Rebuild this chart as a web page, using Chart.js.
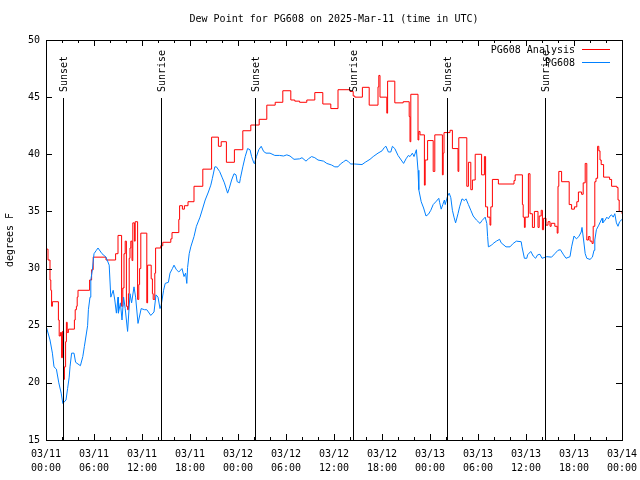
<!DOCTYPE html>
<html><head><meta charset="utf-8">
<script src="https://cdn.jsdelivr.net/npm/chart.js@4.4.1/dist/chart.umd.min.js"></script>
<style>html,body{margin:0;padding:0;background:#fff;}canvas{display:block;}</style>
</head><body>
<canvas id="c" width="640" height="480"></canvas>
<script>
const chartTitle = 'Dew Point for PG608 on 2025-Mar-11 (time in UTC)';
const yAxisTitle = 'degrees F';
const dayLabels = ['03/11', '03/12', '03/13', '03/14'];
const analysisLabel = 'PG608 Analysis';
const obsLabel = 'PG608';

// hours since 03/11 00:00 UTC, value holds from that hour on (stepped)
const analysisHours = [0, 0.25, 0.5, 0.6, 0.7, 0.8, 1.55, 1.65, 1.8, 1.95, 2.05, 2.2, 2.3, 2.45, 2.55, 2.65, 2.8, 3.55, 3.65, 3.8, 3.9, 4.0, 5.45, 5.7, 5.9, 7.5, 8.7, 9.0, 9.45, 9.6, 9.75, 9.9, 10.05, 10.2, 10.3, 10.4, 10.5, 10.6, 10.75, 10.85, 11.05, 11.15, 11.45, 11.6, 11.7, 11.85, 12.6, 12.7, 13.15, 13.3, 13.4, 13.6, 13.7, 14.35, 14.6, 15.6, 15.75, 16.6, 16.7, 17.05, 17.3, 17.75, 18.5, 19.6, 20.7, 21.55, 21.9, 22.55, 23.55, 24.6, 25.6, 26.65, 27.6, 28.65, 29.6, 30.6, 31.1, 31.7, 32.6, 33.6, 34.6, 35.6, 36.5, 38.0, 38.4, 38.6, 39.55, 40.4, 41.5, 41.6, 41.75, 42.6, 42.7, 43.6, 44.65, 45.4, 45.5, 45.6, 46.5, 46.6, 46.75, 47.3, 47.4, 47.7, 48.4, 48.6, 49.55, 49.65, 49.75, 50.5, 50.8, 51.5, 51.6, 52.6, 52.8, 53.1, 53.3, 53.65, 54.45, 54.8, 54.95, 55.2, 55.5, 55.6, 55.8, 56.55, 58.5, 58.65, 59.55, 59.65, 59.8, 59.9, 60.3, 60.5, 60.8, 61.05, 61.5, 61.65, 61.9, 62.05, 62.2, 62.5, 62.75, 63.0, 63.15, 63.6, 63.9, 64.0, 64.1, 64.45, 65.4, 65.7, 66.05, 66.35, 66.55, 66.95, 67.15, 67.4, 67.6, 67.8, 68.0, 68.25, 68.4, 68.6, 68.75, 68.95, 69.1, 69.25, 69.4, 69.7, 70.45, 70.7, 71.35, 71.5, 71.65, 72];
const analysisValues = [31.7, 30.75, 29.0, 28.1, 26.7, 27.1, 25.5, 24.1, 24.4, 22.2, 24.5, 20.3, 21.4, 23.6, 25.3, 24.4, 24.7, 25.5, 26.4, 26.7, 27.5, 28.1, 29.0, 29.9, 31.0, 30.75, 31.3, 32.9, 26.7, 28.3, 31.3, 32.4, 26.7, 26.4, 27.8, 30.9, 31.8, 32.4, 30.7, 34.0, 32.4, 34.1, 27.3, 28.6, 30.0, 33.1, 27.0, 30.3, 29.1, 27.8, 27.3, 29.6, 31.8, 32.0, 32.3, 32.6, 33.15, 34.3, 35.5, 35.2, 35.5, 35.85, 37.2, 38.7, 41.5, 40.7, 41.1, 39.3, 40.4, 42.06, 42.56, 43.06, 44.3, 44.55, 45.56, 44.75, 44.65, 44.55, 44.75, 45.4, 44.4, 44.0, 45.65, 45.5, 45.1, 45.0, 45.86, 44.3, 45.9, 46.9, 45.0, 43.6, 46.4, 44.5, 44.6, 43.3, 41.1, 45.25, 41.25, 42.0, 41.7, 37.3, 39.5, 41.2, 38.5, 41.7, 38.2, 40.1, 41.9, 42.1, 40.5, 38.5, 41.45, 37.2, 39.3, 36.9, 37.75, 40.0, 38.2, 39.8, 35.4, 34.5, 33.8, 35.4, 37.8, 37.4, 37.7, 38.2, 35.6, 34.5, 33.6, 34.5, 38.3, 34.8, 33.6, 35.0, 33.6, 34.6, 35.1, 33.4, 34.4, 33.8, 34.1, 33.7, 33.96, 33.7, 33.1, 37.2, 38.5, 37.6, 35.6, 35.2, 35.4, 35.85, 36.7, 36.5, 37.5, 39.2, 32.5, 32.8, 32.4, 32.2, 33.7, 37.6, 37.9, 40.7, 40.3, 39.5, 39.1, 38.0, 37.8, 37.2, 37.1, 36.0, 35.0, 34.8];

const obsHours = [0.0, 0.5, 0.8, 1.0, 1.3, 1.6, 1.9, 2.1, 2.5, 2.7, 2.9, 3.0, 3.2, 3.5, 3.7, 4.3, 4.6, 4.8, 5.0, 5.2, 5.3, 5.5, 5.6, 5.8, 6.0, 6.3, 6.5, 7.0, 7.5, 7.9, 8.1, 8.4, 8.6, 8.8, 9.0, 9.05, 9.3, 9.5, 9.7, 9.9, 10.2, 10.5, 10.7, 11.0, 11.2, 11.5, 11.9, 12.3, 12.6, 13.1, 13.5, 13.75, 14.0, 14.25, 14.4, 14.7, 14.9, 15.3, 15.5, 15.8, 16.0, 16.3, 16.6, 17.0, 17.25, 17.45, 17.6, 17.7, 17.9, 18.1, 18.5, 18.8, 19.25, 19.6, 19.9, 20.3, 20.6, 20.8, 21.1, 21.3, 21.7, 22.0, 22.3, 22.7, 22.9, 23.2, 23.5, 23.75, 23.9, 24.2, 24.3, 24.6, 24.9, 25.2, 25.5, 25.7, 26.0, 26.1, 26.3, 26.6, 26.9, 27.2, 27.5, 28.0, 28.6, 29.2, 29.7, 30.1, 30.5, 31.0, 31.7, 32.0, 32.5, 32.8, 33.2, 33.6, 34.0, 34.7, 35.1, 35.7, 36.1, 36.5, 36.8, 37.2, 37.5, 37.8, 38.1, 38.6, 39.5, 39.9, 40.5, 40.9, 41.5, 42.0, 42.3, 42.5, 42.8, 43.1, 43.3, 43.6, 44.0, 44.4, 44.7, 45.0, 45.3, 45.5, 45.8, 46.0, 46.3, 46.5, 46.6, 46.9, 47.2, 47.5, 47.8, 48.1, 48.4, 48.8, 49.1, 49.2, 49.4, 49.6, 49.8, 49.9, 50.2, 50.4, 50.6, 50.8, 51.0, 51.2, 51.5, 51.7, 52.0, 52.3, 52.5, 52.8, 53.1, 53.4, 53.8, 54.25, 54.5, 54.9, 55.1, 55.2, 55.3, 55.7, 55.9, 56.3, 56.7, 56.9, 57.5, 58.0, 58.4, 58.8, 59.4, 59.5, 59.8, 60.1, 60.2, 60.6, 60.9, 61.2, 61.45, 61.75, 62.0, 62.6, 63.2, 63.6, 64.0, 64.3, 64.7, 65.0, 65.5, 65.7, 66.0, 66.3, 66.6, 66.9, 67.0, 67.2, 67.4, 67.6, 68.0, 68.3, 68.5, 68.6, 68.8, 69.1, 69.4, 69.5, 69.6, 69.9, 70.1, 70.3, 70.5, 70.7, 70.9, 71.1, 71.3, 71.5, 71.7, 72.0];
const obsValues = [25.0, 23.75, 22.6, 21.4, 21.2, 20.0, 19.1, 18.2, 18.5, 19.5, 20.5, 21.4, 22.6, 22.6, 21.8, 21.5, 22.3, 23.2, 24.1, 25.0, 26.4, 27.5, 29.0, 29.9, 31.3, 31.6, 31.8, 31.3, 31.0, 30.3, 27.5, 28.1, 27.25, 26.1, 27.5, 26.1, 27.0, 25.5, 27.5, 26.5, 24.5, 27.8, 27.0, 28.4, 27.5, 25.2, 26.5, 26.4, 26.4, 25.9, 26.2, 27.7, 27.5, 26.5, 26.8, 28.1, 28.7, 28.8, 29.6, 30.0, 30.3, 29.9, 29.7, 30.0, 29.3, 29.6, 28.7, 30.1, 31.3, 31.9, 32.8, 33.7, 34.5, 35.3, 36.0, 36.7, 37.3, 37.9, 38.9, 38.9, 38.5, 38.0, 37.5, 36.6, 37.0, 37.75, 38.3, 38.2, 37.6, 37.5, 37.9, 38.9, 39.8, 40.5, 40.4, 39.8, 39.2, 39.3, 39.8, 40.4, 40.7, 40.25, 40.1, 40.1, 39.9, 39.9, 39.85, 39.95, 39.85, 39.56, 39.6, 39.7, 39.4, 39.6, 39.8, 39.7, 39.5, 39.4, 39.2, 39.06, 38.9, 38.9, 39.15, 39.35, 39.5, 39.35, 39.15, 39.15, 39.1, 39.3, 39.56, 39.8, 40.1, 40.3, 40.6, 40.7, 40.2, 40.2, 40.7, 40.5, 39.9, 39.5, 39.2, 39.6, 39.9, 39.8, 40.1, 39.8, 40.4, 38.6, 36.9, 35.85, 35.3, 34.6, 34.75, 35.1, 35.6, 35.9, 36.15, 35.8, 35.2, 35.6, 36.0, 35.6, 36.35, 36.6, 36.2, 35.1, 34.5, 34.0, 34.8, 35.4, 36.1, 35.95, 36.1, 35.6, 35.1, 34.6, 34.25, 33.95, 34.2, 34.5, 33.95, 32.8, 31.9, 32.05, 32.2, 32.4, 32.56, 32.25, 31.9, 31.9, 32.2, 32.4, 32.35, 31.9, 30.9, 30.9, 31.2, 31.5, 31.1, 30.9, 31.2, 31.25, 30.9, 31.04, 31.0, 31.3, 31.6, 31.65, 31.2, 30.9, 31.04, 31.9, 32.85, 32.6, 32.8, 33.2, 33.6, 32.5, 31.3, 30.9, 30.8, 31.0, 31.6, 32.5, 33.4, 33.8, 34.25, 34.4, 34.0, 34.25, 34.5, 34.35, 34.6, 34.7, 34.5, 34.8, 34.0, 33.7, 34.1, 34.3];

const sunHours = [2.17, 14.42, 26.18, 38.4, 50.1, 62.32];
const sunLabels = ['Sunset', 'Sunrise', 'Sunset', 'Sunrise', 'Sunset', 'Sunrise'];

const yTickMin = 15, yTickMax = 50, yTickStep = 5;
const xMin = 0, xMax = 72, xMajorStep = 6, xMinorStep = 2;

const FAMILY = '"DejaVu Sans Mono", "Liberation Mono", monospace';
const FONT = '10px ' + FAMILY;

function pad2(n) { return (n < 10 ? '0' : '') + n; }

const decor = {
  id: 'decor',
  afterDatasetsDraw(chart) {
    const { ctx, chartArea: a, scales } = chart;
    const xs = scales.x, ys = scales.y;
    ctx.save();
    ctx.strokeStyle = '#000';
    ctx.fillStyle = '#000';
    ctx.lineWidth = 1;
    ctx.strokeRect(Math.round(a.left) + 0.5, Math.round(a.top) + 0.5, Math.round(a.right - a.left), Math.round(a.bottom - a.top));
    ctx.beginPath();
    for (let v = yTickMin; v <= yTickMax; v += yTickStep) {
      const py = Math.round(ys.getPixelForValue(v)) + 0.5;
      ctx.moveTo(a.left, py); ctx.lineTo(a.left + 6, py);
      ctx.moveTo(a.right, py); ctx.lineTo(a.right - 6, py);
    }
    for (let h = xMin; h <= xMax; h += xMinorStep) {
      const px = Math.round(xs.getPixelForValue(h)) + 0.5;
      const len = (h % xMajorStep === 0) ? 6 : 3;
      ctx.moveTo(px, a.bottom); ctx.lineTo(px, a.bottom - len);
      ctx.moveTo(px, a.top); ctx.lineTo(px, a.top + len);
    }
    sunHours.forEach((h) => {
      const px = Math.round(xs.getPixelForValue(h)) + 0.5;
      ctx.moveTo(px, a.top + 58); ctx.lineTo(px, a.bottom);
    });
    ctx.stroke();
    ctx.font = FONT;
    sunHours.forEach((h, i) => {
      const px = Math.round(xs.getPixelForValue(h)) + 1;
      ctx.save();
      ctx.translate(px, a.top + 52);
      ctx.rotate(-Math.PI / 2);
      ctx.textAlign = 'left';
      ctx.textBaseline = 'middle';
      ctx.fillText(sunLabels[i], 0, 0);
      ctx.restore();
    });
    chart.data.datasets.forEach((ds, i) => {
      const ry = a.top + 10 + 13 * i;
      ctx.textAlign = 'right';
      ctx.textBaseline = 'middle';
      ctx.fillStyle = '#000';
      ctx.fillText(ds.label, a.right - 47, ry);
      ctx.strokeStyle = ds.borderColor;
      ctx.beginPath();
      ctx.moveTo(a.right - 40, Math.round(ry) - 0.5);
      ctx.lineTo(a.right - 12, Math.round(ry) - 0.5);
      ctx.stroke();
    });
    ctx.fillStyle = '#000';
    ctx.textAlign = 'center';
    ctx.textBaseline = 'middle';
    ctx.fillText(chartTitle, (a.left + a.right) / 2, 19);
    ctx.restore();
  }
};

new Chart(document.getElementById('c'), {
  type: 'line',
  data: {
    datasets: [
      {
        label: analysisLabel,
        data: analysisHours.map((h, i) => ({ x: h, y: analysisValues[i] })),
        borderColor: '#ff0000',
        borderWidth: 1,
        pointRadius: 0,
        stepped: true,
        fill: false,
        order: 1
      },
      {
        label: obsLabel,
        data: obsHours.map((h, i) => ({ x: h, y: obsValues[i] })),
        borderColor: '#0080ff',
        borderWidth: 1,
        pointRadius: 0,
        tension: 0,
        fill: false,
        order: 0
      }
    ]
  },
  options: {
    responsive: false,
    animation: false,
    devicePixelRatio: 1,
    layout: { padding: { top: 40, right: 18, left: 0, bottom: 0 } },
    plugins: { legend: { display: false }, tooltip: { enabled: false }, title: { display: false } },
    scales: {
      x: {
        type: 'linear',
        min: xMin, max: xMax,
        grid: { display: false, drawTicks: false },
        border: { display: false },
        ticks: {
          stepSize: xMajorStep,
          autoSkip: false,
          maxRotation: 0,
          padding: 7,
          color: '#000',
          font: { family: FAMILY, size: 10, lineHeight: 1.4 },
          callback: (v) => {
            const d = Math.floor(v / 24);
            return [dayLabels[d], pad2(v % 24) + ':00'];
          }
        },
        afterFit: (s) => { s.height = 40; s.paddingLeft = 0; s.paddingRight = 0; }
      },
      y: {
        min: yTickMin, max: yTickMax,
        grid: { display: false, drawTicks: false },
        border: { display: false },
        ticks: {
          stepSize: yTickStep,
          padding: 6,
          color: '#000',
          font: { family: FAMILY, size: 10 }
        },
        title: {
          display: true,
          text: yAxisTitle,
          color: '#000',
          font: { family: FAMILY, size: 10, lineHeight: 1.2 },
          padding: { top: 4, bottom: 0 }
        },
        afterFit: (s) => { s.width = 46; s.paddingTop = 0; s.paddingBottom = 0; }
      }
    }
  },
  plugins: [decor]
});
</script>
</body></html>
